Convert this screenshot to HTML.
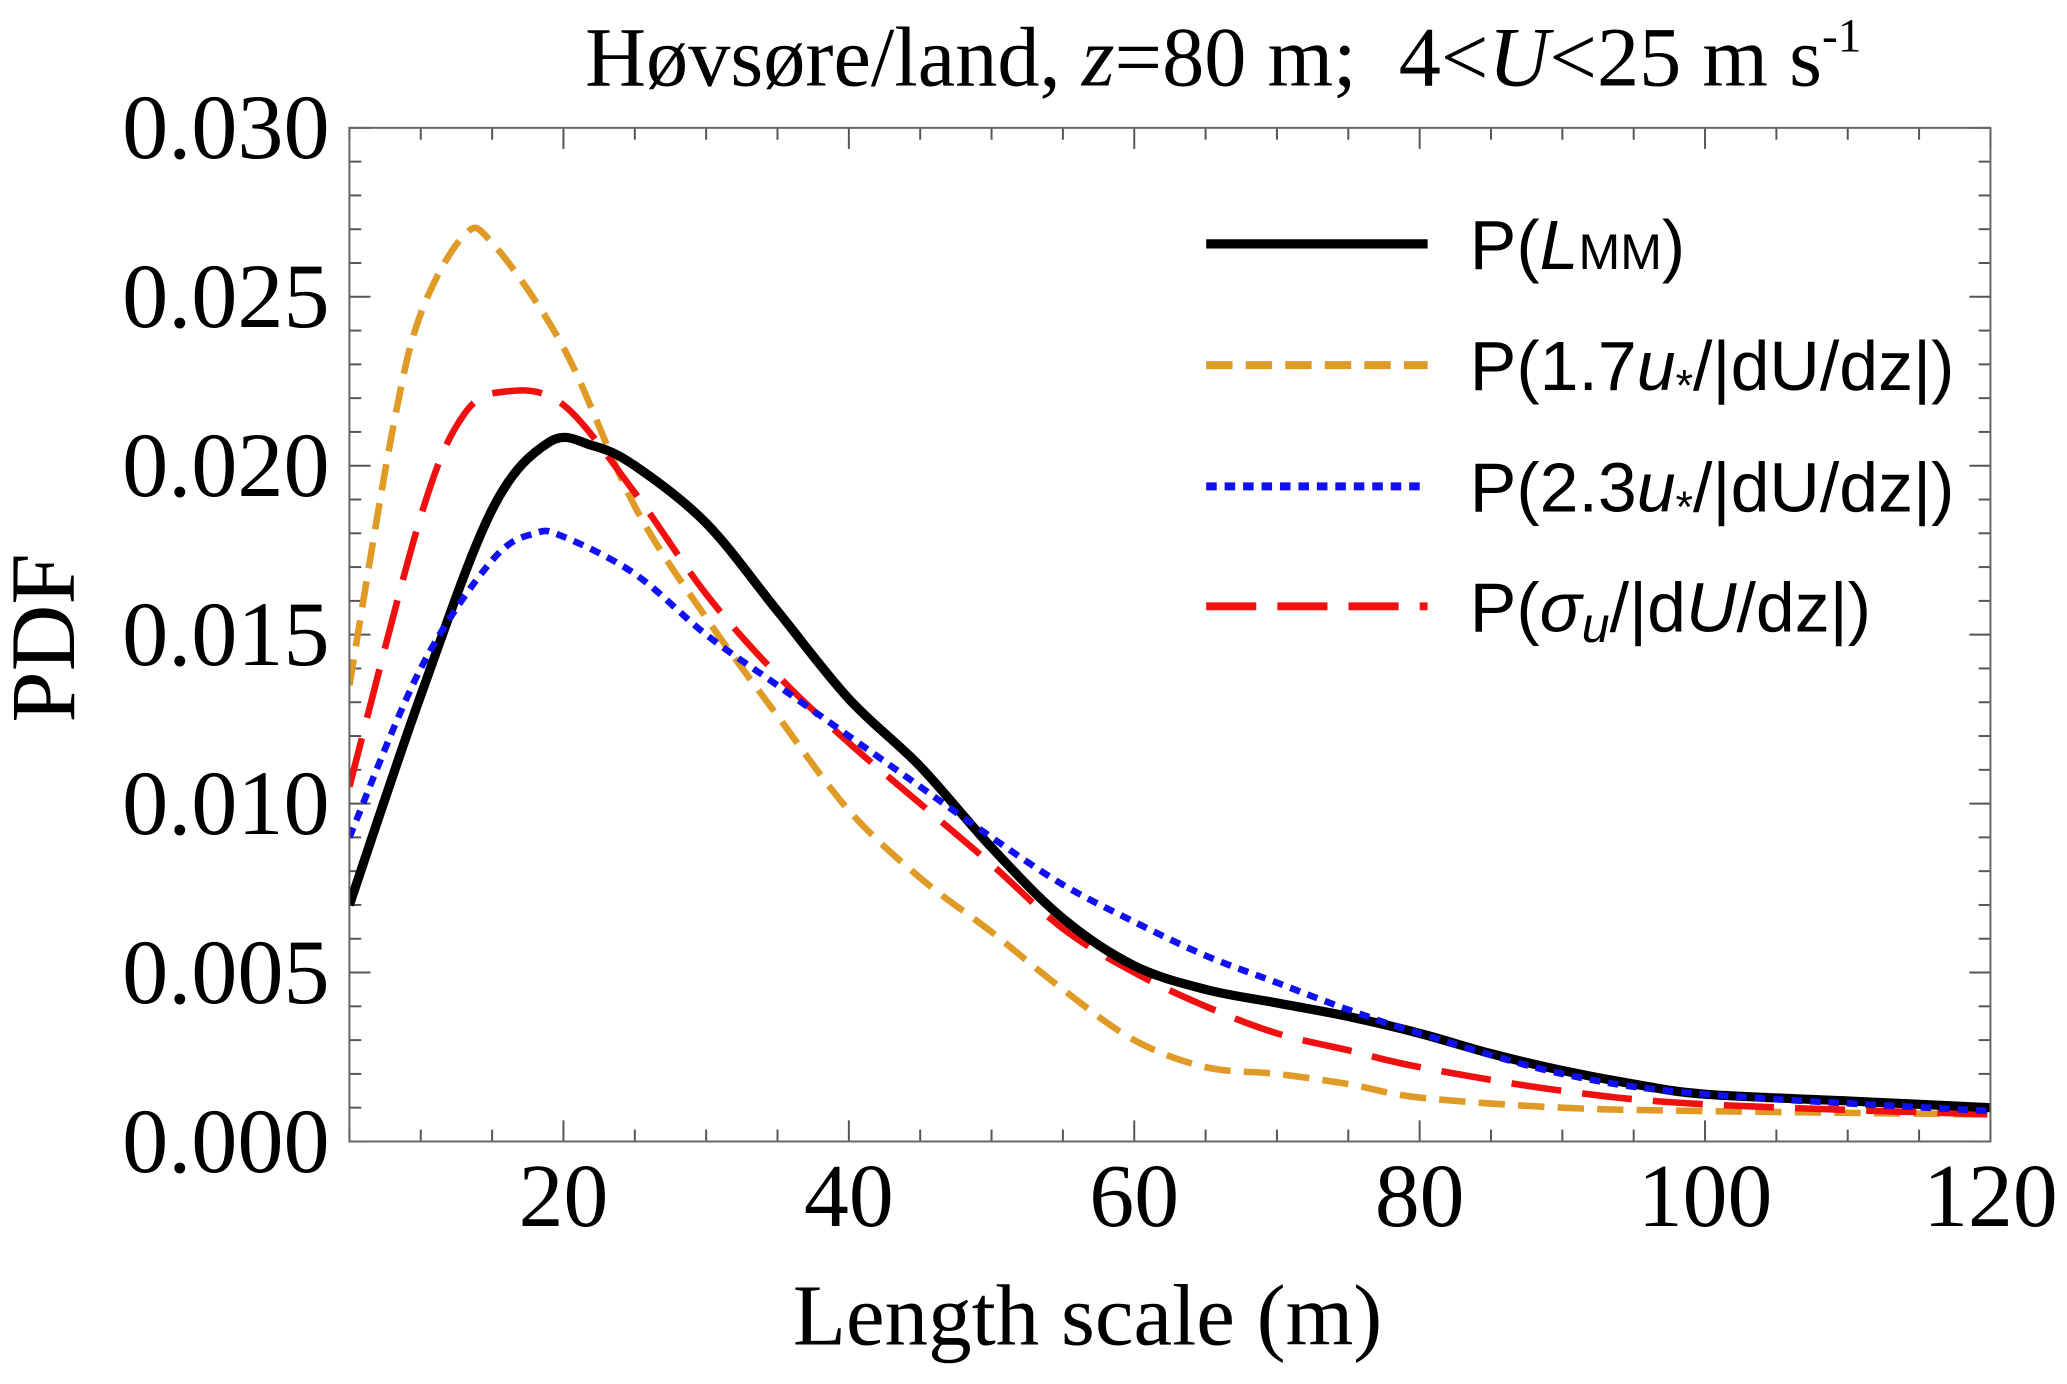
<!DOCTYPE html>
<html><head><meta charset="utf-8"><style>
html,body{margin:0;padding:0;background:#fff;}
svg{display:block;}
</style></head><body>
<svg id="chart" width="2067" height="1384" viewBox="0 0 1568 1050" xmlns="http://www.w3.org/2000/svg">
<g id="ticks"></g>
<g id="series"></g>
<rect x="265" y="97" width="1245" height="769" fill="none" stroke="#666" stroke-width="1.5"/>
<text x="928" y="65" text-anchor="middle" font-family="Liberation Serif, serif" font-size="64" xml:space="preserve">Høvsøre/land, <tspan font-style="italic">z</tspan>=80 m;  4&lt;<tspan font-style="italic">U</tspan>&lt;25 m s<tspan font-size="36" dy="-26">-1</tspan></text>
<text transform="translate(56,484) rotate(-90)" text-anchor="middle" font-family="Liberation Serif, serif" font-size="70">PDF</text>
<text x="825" y="1020" text-anchor="middle" font-family="Liberation Serif, serif" font-size="66">Length scale (m)</text>
<g font-family="Liberation Sans, sans-serif" font-size="53">
<line x1="915" y1="185" x2="1083" y2="185" stroke="#000" stroke-width="7"/>
<text x="1115" y="204">P(<tspan font-style="italic">L</tspan><tspan font-size="38">MM</tspan>)</text>
<line x1="915" y1="277" x2="1083" y2="277" stroke="#E09B26" stroke-width="6" stroke-dasharray="20,10"/>
<text x="1115" y="296">P(1.7<tspan font-style="italic">u</tspan><tspan font-size="34" dy="8">*</tspan><tspan dy="-8">/|dU/dz|)</tspan></text>
<line x1="915" y1="369" x2="1083" y2="369" stroke="#1010F0" stroke-width="6" stroke-dasharray="8,6"/>
<text x="1115" y="388">P(2.3<tspan font-style="italic">u</tspan><tspan font-size="34" dy="8">*</tspan><tspan dy="-8">/|dU/dz|)</tspan></text>
<line x1="915" y1="460" x2="1083" y2="460" stroke="#F01010" stroke-width="6" stroke-dasharray="38,16"/>
<text x="1115" y="479">P(<tspan font-style="italic">σ</tspan><tspan font-style="italic" font-size="38" dy="8">u</tspan><tspan dy="-8">/|d</tspan><tspan font-style="italic">U</tspan>/dz|)</text>
</g>
</svg>
<script>
const lmmX = [5,10,15,19,22,25,30,35,40,45,50,55,60,65,70,75,80,85,90,95,100,110,120];
const lmmY = [0.0070,0.0132,0.0187,0.0207,0.0206,0.0200,0.0183,0.0157,0.0131,0.0111,0.0087,0.0066,0.0052,0.0045,0.0041,0.0037,0.0032,0.0026,0.0021,0.0017,0.0014,0.0012,0.0010];
const orX = [5,8,10,13,15,20,25,30,35,40,45,50,55,60,65,70,75,80,90,100,120];
const orY = [0.0135,0.0210,0.0245,0.0268,0.0266,0.0235,0.0188,0.0155,0.0126,0.0098,0.0078,0.0062,0.0045,0.0030,0.0022,0.0020,0.0017,0.0013,0.0010,0.0009,0.0008];
const blX = [5,10,15,18,20,25,30,35,40,45,50,55,60,65,70,75,80,90,100,120];
const blY = [0.0090,0.0140,0.0172,0.0180,0.0179,0.0168,0.0150,0.0135,0.0120,0.0105,0.0090,0.0076,0.0065,0.0055,0.0047,0.0039,0.0032,0.0020,0.0014,0.0009];
const rdX = [5,10,13,16,20,25,30,35,40,45,50,55,60,65,70,75,80,90,100,120];
const rdY = [0.0105,0.0185,0.0215,0.0222,0.0218,0.0192,0.0162,0.0138,0.0118,0.0100,0.0082,0.0063,0.0050,0.0040,0.0032,0.0027,0.0022,0.0015,0.0011,0.0008];
const xTicks = [20,40,60,80,100,120];
const yTicks = [0,0.005,0.010,0.015,0.020,0.025,0.030];
const yTickLabels = ["0.000","0.005","0.010","0.015","0.020","0.025","0.030"];

const L=265,R=1510,T=97,B=866,X0=5,X1=120,Y0=0,Y1=0.03;
const sx=v=>L+(v-X0)/(X1-X0)*(R-L);
const sy=v=>B-(v-Y0)/(Y1-Y0)*(B-T);
const NS="http://www.w3.org/2000/svg";
const tg=document.getElementById('ticks');
function mk(tag,attrs,parent){const e=document.createElementNS(NS,tag);for(const k in attrs)e.setAttribute(k,attrs[k]);parent.appendChild(e);return e;}
for(let v=5;v<=120;v+=5){
  const x=sx(v);const major=v%20===0;const len=major?16:9;
  const a=mk('line',{x1:x,y1:B,x2:x,y2:B-len,stroke:'#555','stroke-width':1.5},tg);
  
  
  const b=mk('line',{x1:x,y1:T,x2:x,y2:T+len,stroke:'#555','stroke-width':1.5},tg);
  
  
}
xTicks.forEach(v=>{
  const t=mk('text',{x:sx(v),y:930,'text-anchor':'middle','font-family':'Liberation Serif, serif','font-size':68},tg);
  t.textContent=v;
  
  
});
for(let i=0;i<=30;i++){
  const v=i*0.001;const y=sy(v);const major=i%5===0;const len=major?16:9;
  const a=mk('line',{x1:L,y1:y,x2:L+len,y2:y,stroke:'#555','stroke-width':1.5},tg);
  
  
  const b=mk('line',{x1:R,y1:y,x2:R-len,y2:y,stroke:'#555','stroke-width':1.5},tg);
  
  
}
yTicks.forEach((v,i)=>{
  const t=mk('text',{x:250,y:sy(v)+23,'text-anchor':'end','font-family':'Liberation Serif, serif','font-size':70},tg);
  t.textContent=yTickLabels[i];
  
  
});
function smooth(X,Y){
  const p=X.map((x,i)=>[sx(x),sy(Y[i])]);
  let d='M'+p[0][0]+','+p[0][1];
  for(let i=0;i<p.length-1;i++){
    const p0=p[i-1]||p[i],p1=p[i],p2=p[i+1],p3=p[i+2]||p2;
    const c1=[p1[0]+(p2[0]-p0[0])/6,p1[1]+(p2[1]-p0[1])/6];
    const c2=[p2[0]-(p3[0]-p1[0])/6,p2[1]-(p3[1]-p1[1])/6];
    d+=' C'+c1+' '+c2+' '+p2;
  }
  return d;
}
const sg=document.getElementById('series');
const clip=mk('clipPath',{id:'pc'},sg);mk('rect',{x:L,y:T,width:R-L,height:B-T},clip);
const s1=mk('path',{d:smooth(orX,orY),fill:'none',stroke:'#E09B26','stroke-width':5,'stroke-dasharray':'20,10','clip-path':'url(#pc)'},sg);


const s2=mk('path',{d:smooth(rdX,rdY),fill:'none',stroke:'#F01010','stroke-width':5,'stroke-dasharray':'38,16','clip-path':'url(#pc)'},sg);


const s3=mk('path',{d:smooth(lmmX,lmmY),fill:'none',stroke:'#000','stroke-width':7,'clip-path':'url(#pc)'},sg);


const s4=mk('path',{d:smooth(blX,blY),fill:'none',stroke:'#1010F0','stroke-width':5,'stroke-dasharray':'8,6','clip-path':'url(#pc)'},sg);


</script>
</body></html>
